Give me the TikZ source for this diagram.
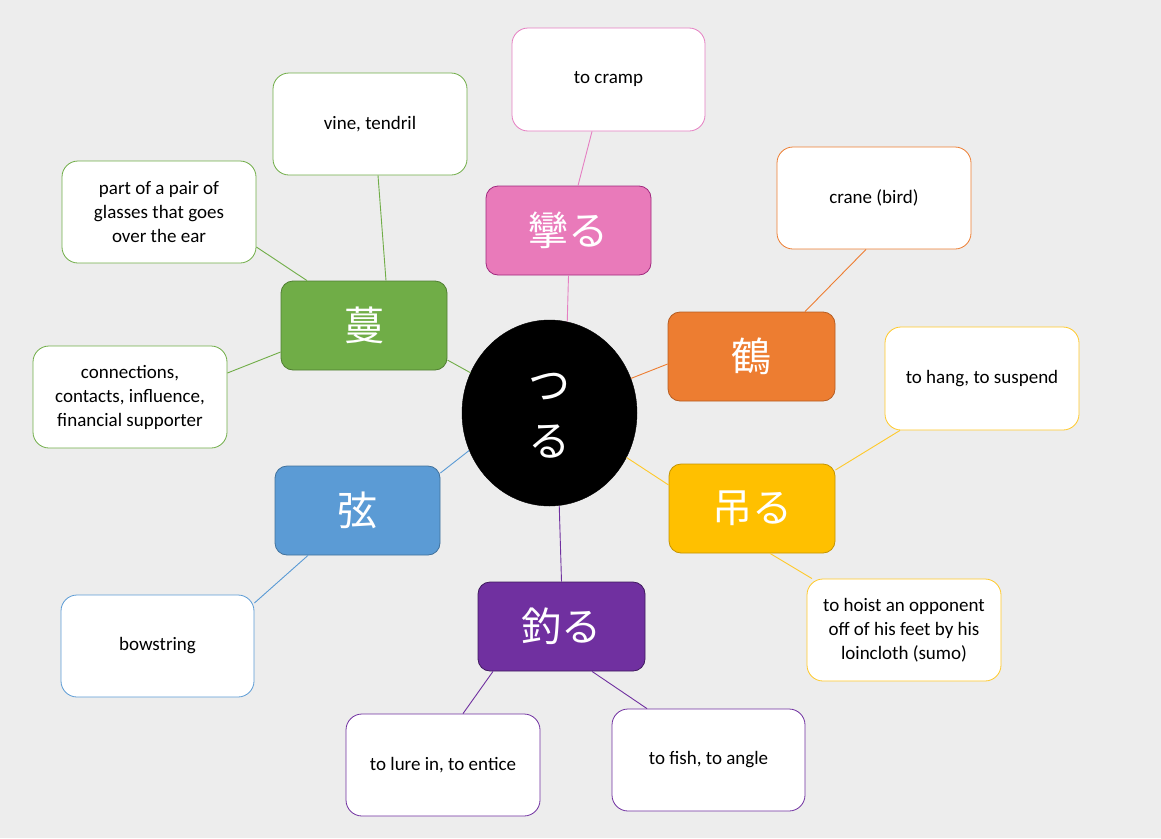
\documentclass[tikz,border=0pt]{standalone}
\usepackage{fontspec}
\setmainfont{Carlito}
\newfontfamily\cjk{Noto Sans CJK JP}
\usetikzlibrary{shapes.geometric}
\definecolor{bg}{HTML}{EDEDED}
\definecolor{pinkf}{HTML}{E97ABA}
\definecolor{pinkd}{HTML}{A0287E}
\definecolor{pinkl}{HTML}{E57FC2}
\definecolor{orf}{HTML}{ED7D31}
\definecolor{ord}{HTML}{B65D22}
\definecolor{yelf}{HTML}{FFC000}
\definecolor{yeld}{HTML}{C49400}
\definecolor{yell}{HTML}{FFC929}
\definecolor{purf}{HTML}{7030A0}
\definecolor{purd}{HTML}{3F1A5E}
\definecolor{bluf}{HTML}{5B9BD5}
\definecolor{blud}{HTML}{41719C}
\definecolor{grnf}{HTML}{70AD47}
\definecolor{grnd}{HTML}{507E32}
\begin{document}
\begin{tikzpicture}[x=1pt,y=-1pt,
  kbox/.style={draw, rounded corners=12pt, minimum width=165pt, minimum height=89pt, inner sep=0pt, text=white, font=\cjk\fontsize{40}{48}\selectfont, line width=0.8pt},
  wbox/.style={draw, rounded corners=16pt, fill=white, minimum width=194pt, minimum height=102pt, inner sep=0pt, align=center, font=\fontsize{19}{24}\selectfont, text=black, line width=0.8pt},
  conn/.style={line width=0.9pt}]
\fill[bg] (0,0) rectangle (1161,838);
\useasboundingbox (0,0) rectangle (1161,838);

% centre
\node[ellipse, fill=black, draw=black, minimum width=175pt, minimum height=186pt, inner sep=0pt] (e) at (549.5,413) {};
\node[text=white, align=center, inner sep=0pt, font=\cjk\fontsize{42}{56}\selectfont] (et) at (549.5,416) {つ\\る};

% kanji boxes
\node[kbox, fill=pinkf, draw=pinkd] (k1) at (568.5,230.5) {攣る};
\node[kbox, fill=orf, draw=ord, minimum width=167pt] (k2) at (751.5,356.5) {鶴};
\node[kbox, fill=yelf, draw=yeld, minimum width=166pt] (k3) at (752,508.5) {吊る};
\node[kbox, fill=purf, draw=purd, minimum width=167pt] (k4) at (561.5,626.5) {釣る};
\node[kbox, fill=bluf, draw=blud] (k5) at (357.5,510.5) {弦};
\node[kbox, fill=grnf, draw=grnd, minimum width=166pt] (k6) at (364,325.5) {蔓};

% meaning boxes
\node[wbox, draw=pinkl, minimum width=193pt, minimum height=103pt] (c1) at (608.5,79.5) {to cramp};
\node[wbox, draw=orf] (c2) at (874,198) {crane (bird)};
\node[wbox, draw=yell, minimum height=103pt] (c3) at (982,378.5) {to hang, to suspend};
\node[wbox, draw=yell] (c4) at (904,630) {to hoist an opponent\\off of his feet by his\\loincloth (sumo)};
\node[wbox, draw=purf] (c5) at (443,765) {to lure in, to entice};
\node[wbox, draw=purf, minimum width=193pt] (c6) at (708.5,760) {to fish, to angle};
\node[wbox, draw=bluf, minimum width=193pt] (c7) at (157.5,646) {bowstring};
\node[wbox, draw=grnf] (c8) at (370,124) {vine, tendril};
\node[wbox, draw=grnf] (c9) at (159,212) {part of a pair of\\glasses that goes\\over the ear};
\node[wbox, draw=grnf] (c10) at (130,397) {connections,\\contacts, influence,\\financial supporter};

% connectors
\draw[conn, pinkl] ([xshift=-16.5pt]c1.south) -- ([xshift=9.5pt]k1.north);
\draw[conn, pinkl] (k1.south) -- (e.79.7);
\draw[conn, orf] ([xshift=-8pt]c2.south) -- ([xshift=53.5pt]k2.north);
\draw[conn, orf] ([yshift=-7.5pt]k2.west) -- (e.23.6);
\draw[conn, yell] ([yshift=38.5pt]k3.east) -- ([xshift=-82pt]c3.south);
\draw[conn, yell] ([yshift=23.5pt]k3.west) -- (e.-30.9);
\draw[conn, yell] ([xshift=18pt]k3.south) -- ([xshift=-92pt]c4.north);
\draw[conn, purf] (k4.north) -- (e.-84.8);
\draw[conn, purf] ([xshift=-68.5pt]k4.south) -- ([xshift=20pt]c5.north);
\draw[conn, purf] ([xshift=30.5pt]k4.south) -- ([xshift=-61.5pt]c6.north);
\draw[conn, grnf] ([xshift=22pt]k6.north) -- ([xshift=8pt]c8.south);
\draw[conn, grnf] ([yshift=-35pt]c9.east) -- ([xshift=-57pt]k6.north);
\draw[conn, grnf] ([yshift=-26.5pt]k6.west) -- ([yshift=24pt]c10.east);
\draw[conn, grnf] ([yshift=-34.5pt]k6.east) -- (e.153.3);
\draw[conn, bluf] ([yshift=37.5pt]k5.east) -- (e.205.8);
\draw[conn, bluf] ([xshift=-49.5pt]k5.south) -- ([yshift=43pt]c7.east);
\end{tikzpicture}
\end{document}
